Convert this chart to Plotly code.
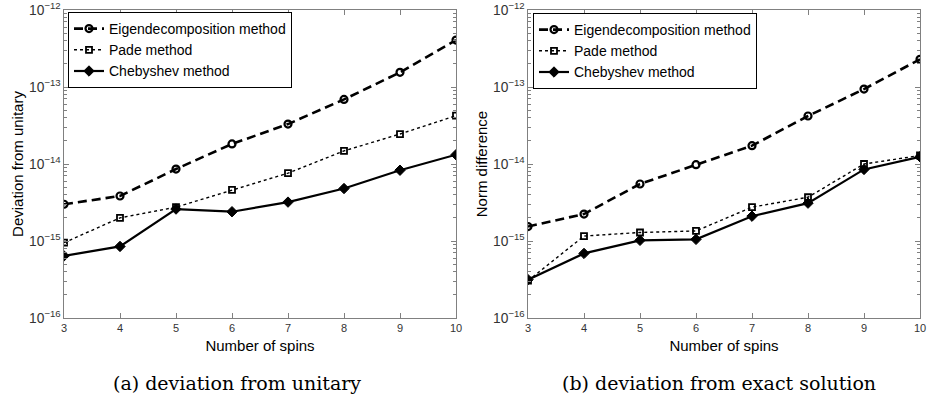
import plotly.graph_objects as go

spins = [3, 4, 5, 6, 7, 8, 9, 10]

# (a) deviation from unitary
unit_eigen = [3.0e-15, 3.84e-15, 8.6e-15, 1.82e-14, 3.3e-14, 6.9e-14, 1.55e-13, 4.07e-13]
unit_pade = [9.5e-16, 2.0e-15, 2.75e-15, 4.6e-15, 7.6e-15, 1.48e-14, 2.45e-14, 4.24e-14]
unit_cheb = [6.4e-16, 8.5e-16, 2.6e-15, 2.4e-15, 3.2e-15, 4.8e-15, 8.3e-15, 1.32e-14]

# (b) deviation from exact solution
exact_eigen = [1.54e-15, 2.24e-15, 5.5e-15, 9.8e-15, 1.73e-14, 4.2e-14, 9.4e-14, 2.29e-13]
exact_pade = [3.05e-16, 1.16e-15, 1.29e-15, 1.35e-15, 2.75e-15, 3.7e-15, 1.0e-14, 1.29e-14]
exact_cheb = [3.15e-16, 6.9e-16, 1.02e-15, 1.05e-15, 2.1e-15, 3.1e-15, 8.5e-15, 1.24e-14]

names = ["Eigendecomposition method", "Pade method", "Chebyshev method"]
captions = ["(a) deviation from unitary", "(b) deviation from exact solution"]
ytitles = ["Deviation from unitary", "Norm difference"]
xtitle = "Number of spins"

styles = [
    dict(line=dict(color="black", width=2.6, dash="9px,5px"),
         marker=dict(symbol="circle-open", size=7, color="black", line=dict(width=2.2))),
    dict(line=dict(color="black", width=1.4, dash="dot"),
         marker=dict(symbol="square-open", size=6, color="black", line=dict(width=1.8))),
    dict(line=dict(color="black", width=2.2, dash="solid"),
         marker=dict(symbol="diamond", size=8, color="black", line=dict(width=1, color="black"))),
]

fig = go.Figure()
datasets = [(unit_eigen, unit_pade, unit_cheb), (exact_eigen, exact_pade, exact_cheb)]
for p, series in enumerate(datasets):
    xa = "x" if p == 0 else "x2"
    ya = "y" if p == 0 else "y2"
    lg = "legend" if p == 0 else "legend2"
    for k, vals in enumerate(series):
        fig.add_trace(go.Scatter(x=spins, y=vals, mode="lines+markers", name=names[k],
                                 xaxis=xa, yaxis=ya, legend=lg, **styles[k]))

W, H = 928, 398
ML, MR, MT, MB = 64, 8, 10, 80
PW, PH = W - ML - MR, H - MT - MB
doms = [((64 - ML) / PW, (456 - ML) / PW), ((528 - ML) / PW, (920 - ML) / PW)]
axcol = "#808080"
tickfont = dict(family="Liberation Sans, Arial, sans-serif", size=11, color="#333333")
titlefont = dict(family="Liberation Sans, Arial, sans-serif", size=15, color="black")

layout = dict(
    width=W, height=H, margin=dict(l=ML, r=MR, t=MT, b=MB, autoexpand=False),
    paper_bgcolor="white", plot_bgcolor="white", showlegend=True,
)
for p in range(2):
    sx = "" if p == 0 else "2"
    layout["xaxis" + sx] = dict(
        domain=list(doms[p]), anchor="y" + sx, range=[3, 10], tickvals=spins,
        ticks="inside", ticklen=5, tickcolor=axcol, showline=True, linecolor=axcol,
        linewidth=1.2, mirror="ticks", showgrid=False, zeroline=False, tickfont=tickfont,
        automargin=False, title=dict(text=xtitle, font=titlefont, standoff=7),
    )
    layout["yaxis" + sx] = dict(
        domain=[0, 1], anchor="x" + sx, type="log", range=[-16, -12],
        dtick=1, exponentformat="power", showexponent="all",
        ticks="inside", ticklen=5, tickcolor=axcol, showline=True, linecolor=axcol,
        linewidth=1.2, mirror="ticks", showgrid=False, zeroline=False, tickfont=tickfont,
        minor=dict(ticks="inside", ticklen=3, tickcolor=axcol, showgrid=False),
        automargin=False, title=dict(text=ytitles[p], font=titlefont, standoff=1),
    )
legfont = dict(family="Liberation Sans, Arial, sans-serif", size=14, color="black")
layout["legend"] = dict(x=(68 - ML) / PW, y=1 - 2 / PH, xanchor="left", yanchor="top",
                        bgcolor="white", bordercolor="black", borderwidth=1, font=legfont,
                        tracegroupgap=0, itemwidth=30)
layout["legend2"] = dict(x=(533 - ML) / PW, y=1 - 3 / PH, xanchor="left", yanchor="top",
                         bgcolor="white", bordercolor="black", borderwidth=1, font=legfont,
                         tracegroupgap=0, itemwidth=30)
fig.update_layout(**layout)

capfont = dict(family="DejaVu Serif, serif", size=19, color="black")
cap_x = [237, 719]
for p in range(2):
    fig.add_annotation(text=captions[p], x=(cap_x[p] - ML) / PW, y=-(383 - MT - PH) / PH,
                       xref="paper", yref="paper", showarrow=False, font=capfont,
                       xanchor="center", yanchor="middle")

fig.write_html("out.html", config={"displayModeBar": False},
               post_script="document.body.style.margin='0';document.body.style.overflow='hidden';")
